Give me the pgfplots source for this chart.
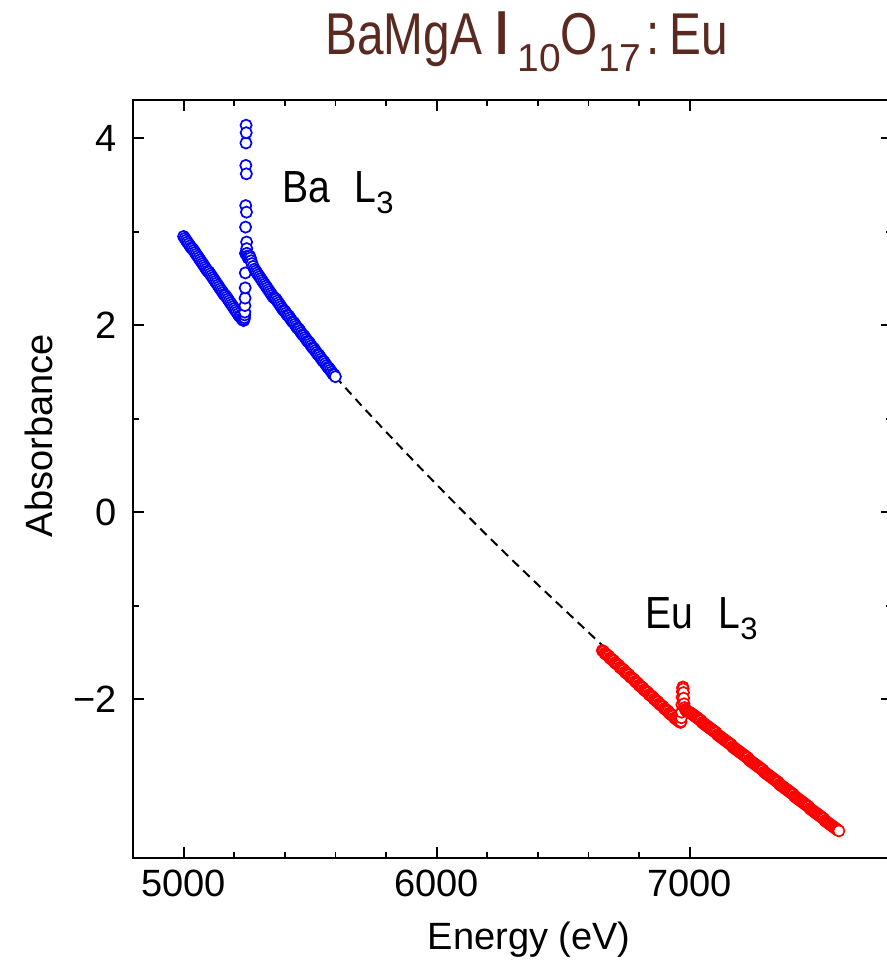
\documentclass[border=0pt]{standalone}
\usepackage{pgfplots}
\pgfplotsset{compat=1.18}
\usepackage{graphicx}
\usepackage{fontspec}
\setmainfont{Liberation Sans}
\definecolor{titlebrown}{RGB}{90,42,32}
\definecolor{bablue}{RGB}{0,0,255}
\definecolor{eured}{RGB}{255,0,0}

% Ba L3 edge region
\pgfplotstableread{
E A
5000 2.95
5005 2.93
5010 2.91
5015 2.89
5020 2.87
5025 2.85
5030 2.83
5035 2.82
5040 2.80
5045 2.78
5050 2.76
5055 2.74
5060 2.72
5065 2.70
5070 2.68
5075 2.66
5080 2.64
5085 2.62
5090 2.60
5095 2.58
5100 2.57
5105 2.55
5110 2.53
5115 2.51
5120 2.49
5125 2.47
5130 2.45
5135 2.43
5140 2.41
5145 2.39
5150 2.37
5155 2.35
5160 2.33
5165 2.32
5170 2.30
5175 2.28
5180 2.26
5185 2.24
5190 2.22
5195 2.20
5200 2.18
5205 2.16
5210 2.14
5215 2.12
5220 2.10
5225 2.09
5230 2.07
5234 2.06
5237 2.05
5239 2.06
5240.5 2.08
5241.5 2.11
5242 2.14
5242.5 2.21
5243 2.29
5243.5 2.40
5244 2.56
5244.5 2.77
5245 3.05
5245.5 3.28
5246 3.71
5246.5 3.95
5247 4.14
5247.5 4.06
5248 3.62
5248.5 3.21
5249 2.89
5249.5 2.82
5250 2.77
5252 2.74
5255 2.72
5258 2.73
5261 2.74
5264 2.72
5267 2.69
5270 2.66
5275 2.63
5280 2.60
5285 2.58
5290 2.56
5295 2.54
5300 2.52
5305 2.50
5310 2.48
5315 2.46
5320 2.44
5325 2.42
5330 2.40
5335 2.38
5340 2.36
5345 2.34
5350 2.32
5355 2.30
5360 2.29
5365 2.28
5370 2.26
5375 2.24
5380 2.22
5385 2.20
5390 2.18
5395 2.16
5400 2.15
5405 2.13
5410 2.11
5415 2.10
5420 2.08
5425 2.06
5430 2.04
5435 2.03
5440 2.01
5445 1.99
5450 1.97
5455 1.96
5460 1.94
5465 1.92
5470 1.90
5475 1.89
5480 1.87
5485 1.85
5490 1.83
5495 1.82
5500 1.80
5505 1.78
5510 1.76
5515 1.75
5520 1.73
5525 1.71
5530 1.69
5535 1.68
5540 1.66
5545 1.64
5550 1.62
5555 1.61
5560 1.59
5565 1.57
5570 1.55
5575 1.54
5580 1.52
5585 1.50
5590 1.48
5595 1.47
5600 1.45
}\badata

% Eu L3 edge region
\pgfplotstableread{
E A
6655 -1.48
6660 -1.49
6665 -1.51
6670 -1.52
6675 -1.53
6680 -1.54
6685 -1.56
6690 -1.57
6695 -1.58
6700 -1.59
6705 -1.61
6710 -1.62
6715 -1.63
6720 -1.64
6725 -1.66
6730 -1.67
6735 -1.68
6740 -1.69
6745 -1.71
6750 -1.72
6755 -1.73
6760 -1.74
6765 -1.76
6770 -1.77
6775 -1.78
6780 -1.79
6785 -1.81
6790 -1.82
6795 -1.83
6800 -1.85
6805 -1.86
6810 -1.87
6815 -1.88
6820 -1.90
6825 -1.91
6830 -1.92
6835 -1.93
6840 -1.95
6845 -1.96
6850 -1.97
6855 -1.98
6860 -2.00
6865 -2.01
6870 -2.02
6875 -2.03
6880 -2.05
6885 -2.06
6890 -2.07
6895 -2.08
6900 -2.10
6905 -2.11
6910 -2.12
6915 -2.13
6920 -2.15
6925 -2.16
6930 -2.17
6935 -2.18
6940 -2.20
6945 -2.21
6950 -2.22
6955 -2.23
6960 -2.24
6964 -2.25
6966 -2.24
6967.5 -2.20
6968.5 -2.14
6969.5 -2.06
6970.5 -1.98
6971.5 -1.92
6972.5 -1.88
6973.5 -1.87
6974.5 -1.89
6975.5 -1.93
6976.5 -1.99
6978 -2.05
6980 -2.09
6983 -2.11
6986 -2.12
6990 -2.13
6995 -2.14
7000 -2.14
7005 -2.15
7010 -2.16
7015 -2.17
7020 -2.18
7025 -2.19
7030 -2.20
7035 -2.21
7040 -2.22
7045 -2.23
7050 -2.25
7055 -2.26
7060 -2.27
7065 -2.28
7070 -2.29
7075 -2.30
7080 -2.31
7085 -2.32
7090 -2.33
7095 -2.34
7100 -2.35
7105 -2.36
7110 -2.38
7115 -2.39
7120 -2.40
7125 -2.41
7130 -2.42
7135 -2.43
7140 -2.44
7145 -2.45
7150 -2.46
7155 -2.47
7160 -2.48
7165 -2.49
7170 -2.51
7175 -2.52
7180 -2.53
7185 -2.54
7190 -2.55
7195 -2.56
7200 -2.57
7205 -2.58
7210 -2.59
7215 -2.60
7220 -2.61
7225 -2.62
7230 -2.63
7235 -2.65
7240 -2.66
7245 -2.67
7250 -2.68
7255 -2.69
7260 -2.70
7265 -2.71
7270 -2.72
7275 -2.73
7280 -2.74
7285 -2.75
7290 -2.76
7295 -2.78
7300 -2.79
7305 -2.80
7310 -2.81
7315 -2.82
7320 -2.83
7325 -2.84
7330 -2.85
7335 -2.86
7340 -2.87
7345 -2.88
7350 -2.89
7355 -2.91
7360 -2.92
7365 -2.93
7370 -2.94
7375 -2.95
7380 -2.96
7385 -2.97
7390 -2.98
7395 -2.99
7400 -3.00
7405 -3.01
7410 -3.02
7415 -3.04
7420 -3.05
7425 -3.06
7430 -3.07
7435 -3.08
7440 -3.09
7445 -3.10
7450 -3.11
7455 -3.12
7460 -3.13
7465 -3.14
7470 -3.15
7475 -3.17
7480 -3.18
7485 -3.19
7490 -3.20
7495 -3.21
7500 -3.22
7505 -3.23
7510 -3.24
7515 -3.25
7520 -3.26
7525 -3.27
7530 -3.28
7535 -3.30
7540 -3.31
7545 -3.32
7550 -3.33
7555 -3.34
7560 -3.35
7565 -3.36
7570 -3.37
7575 -3.38
7580 -3.39
7585 -3.40
7590 -3.41
}\eudata

% background fit bridging the two edges
\pgfplotstableread{
E A
5600 1.45
5700 1.15
5800 0.86
5900 0.575
6000 0.295
6100 0.02
6200 -0.25
6300 -0.515
6400 -0.775
6500 -1.03
6600 -1.285
6700 -1.54
6800 -1.785
6900 -2.03
6960 -2.17
}\fitdata

\begin{document}
\begin{tikzpicture}
\begin{axis}[
  scale only axis,
  width=759pt, height=758pt,
  xmin=4800, xmax=7800,
  ymin=-3.70, ymax=4.41,
  xtick={5000,6000,7000},
  xticklabels={5000,6000,7000},
  minor x tick num=4,
  ytick={-2,0,2,4},
  yticklabels={−2,0,2,4},
  minor y tick num=1,
  tick align=inside,
  major tick length=11pt,
  minor tick length=6pt,
  every tick/.style={black, line width=1.8pt},
  axis line style={line width=2pt},
  tick label style={font=\fontsize{38}{40}\selectfont},
  xticklabel style={anchor=north, inner sep=0pt, yshift=-12pt},
  yticklabel style={anchor=east, inner sep=0pt, xshift=-16pt},
  xlabel={Energy (eV)},
  ylabel={Absorbance},
  label style={font=\fontsize{38}{40}\selectfont},
  xlabel style={at={(axis description cs:0.522,-0.1075)}, anchor=center, inner sep=0pt},
  ylabel style={at={(axis description cs:-0.1245,0.557)}, anchor=center, inner sep=0pt},
]
\addplot[black, line width=2pt, dash pattern=on 9pt off 6pt] table[x=E, y=A] {\fitdata};
\addplot[only marks, mark=*, mark size=5.6pt,
  mark options={draw=bablue, fill=white, line width=1.7pt}] table[x=E, y=A] {\badata};
\addplot[only marks, mark=*, mark size=5.6pt,
  mark options={draw=eured, fill=white, line width=1.7pt}] table[x=E, y=A] {\eudata};
\node[anchor=base west, inner sep=0pt] at (axis cs:5391,3.315)
  {\fontsize{45}{45}\selectfont\scalebox{0.87}[1]{Ba}\hspace{24pt}\scalebox{0.87}[1]{L}\raisebox{-11pt}{\fontsize{31}{31}\selectfont 3}};
\node[anchor=base west, inner sep=0pt] at (axis cs:6826,-1.241)
  {\fontsize{45}{45}\selectfont\scalebox{0.87}[1]{Eu}\hspace{25pt}\scalebox{0.87}[1]{L}\raisebox{-11pt}{\fontsize{31}{31}\selectfont 3}};
\end{axis}
% compound name above the frame
\node[anchor=base west, inner sep=0pt, text=titlebrown] at (192pt,803pt)
  {\fontsize{59}{59}\selectfont\scalebox{0.81}[1]{BaMgA}\hspace{13.7pt}\scalebox{0.81}[1]{\textbf{l}}\hspace{8.7pt}\raisebox{-17pt}{\fontsize{39}{39}\selectfont 10}\scalebox{0.81}[1]{O}\raisebox{-17pt}{\fontsize{39}{39}\selectfont 17}\hspace{5pt}\scalebox{0.81}[1]{:}\hspace{10pt}\scalebox{0.81}[1]{Eu}};
\pgfresetboundingbox
\useasboundingbox (-133pt,-102pt) rectangle (753pt,858pt);
\end{tikzpicture}
\end{document}
